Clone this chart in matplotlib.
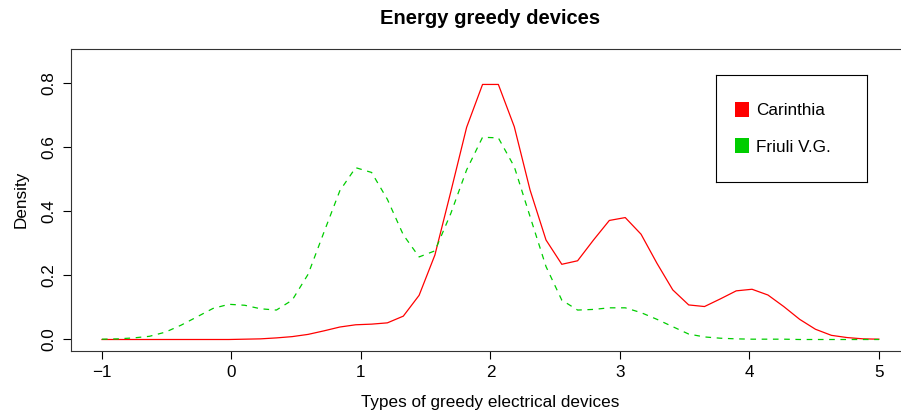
import matplotlib
matplotlib.use("Agg")
import matplotlib.pyplot as plt
from matplotlib.patches import Patch

plt.rcParams["font.family"] = ["Liberation Sans", "DejaVu Sans"]

# grille des abscisses (50 points de -1 a 5)
x_grid = [-1.000, -0.878, -0.755, -0.633, -0.510, -0.388, -0.265, -0.143, -0.020, 0.102,
          0.224, 0.347, 0.469, 0.592, 0.714, 0.837, 0.959, 1.082, 1.204, 1.327,
          1.449, 1.571, 1.694, 1.816, 1.939, 2.061, 2.184, 2.306, 2.429, 2.551,
          2.673, 2.796, 2.918, 3.041, 3.163, 3.286, 3.408, 3.531, 3.653, 3.776,
          3.898, 4.020, 4.143, 4.265, 4.388, 4.510, 4.633, 4.755, 4.878, 5.000]

# densites
carinthia = [0.000, 0.000, 0.000, 0.000, 0.000, 0.000, 0.000, 0.000, 0.000, 0.001,
             0.002, 0.005, 0.009, 0.016, 0.027, 0.039, 0.046, 0.048, 0.052, 0.073,
             0.138, 0.264, 0.462, 0.663, 0.797, 0.797, 0.665, 0.467, 0.311, 0.235,
             0.246, 0.311, 0.372, 0.381, 0.329, 0.238, 0.155, 0.108, 0.103, 0.127,
             0.152, 0.157, 0.139, 0.103, 0.063, 0.032, 0.013, 0.006, 0.002, 0.001]
friuli = [0.001, 0.002, 0.005, 0.010, 0.023, 0.045, 0.071, 0.097, 0.110, 0.107,
          0.096, 0.092, 0.123, 0.204, 0.335, 0.465, 0.537, 0.522, 0.438, 0.327,
          0.258, 0.277, 0.394, 0.530, 0.632, 0.630, 0.540, 0.384, 0.228, 0.123,
          0.092, 0.094, 0.099, 0.099, 0.084, 0.063, 0.040, 0.017, 0.008, 0.004,
          0.002, 0.001, 0.001, 0.001, 0.000, 0.000, 0.000, 0.000, 0.000, 0.000]

x_ticks = [-1, 0, 1, 2, 3, 4, 5]
x_tick_labels = ["\u22121", "0", "1", "2", "3", "4", "5"]
y_ticks = [0.0, 0.2, 0.4, 0.6, 0.8]
y_tick_labels = ["0.0", "0.2", "0.4", "0.6", "0.8"]
series_names = ["Carinthia", "Friuli V.G."]
series_colors = ["#FF0000", "#00CD00"]

FS = 12.3
W, H = 901, 415
fig = plt.figure(figsize=(W / 100, H / 100), dpi=100)
ax = fig.add_axes([70.9 / W, 1 - 350.7 / H, (910 - 70.9) / W, (350.7 - 48.7) / H])

ax.plot(x_grid, carinthia, color=series_colors[0], lw=0.9)
ax.plot(x_grid, friuli, color=series_colors[1], lw=0.9, dashes=(4.5, 4.5))

ax.set_xlim(-1.24, 5.24)
ax.set_ylim(-0.035, 0.9087)
ax.set_xticks(x_ticks)
ax.set_xticklabels(x_tick_labels)
ax.set_yticks(y_ticks)
ax.set_yticklabels(y_tick_labels, rotation=90, va="center")
ax.tick_params(direction="out", length=5.5, width=0.8, labelsize=FS, pad=5)
for s in ax.spines.values():
    s.set_linewidth(0.8)
    s.set_color("#333333")

ax.set_xlabel("Types of greedy electrical devices", fontsize=FS, labelpad=10.5)
ax.set_ylabel("Density", fontsize=FS, labelpad=9)
fig.text(490.5 / W, 1 - 18.5 / H, "Energy greedy devices", ha="center", va="center",
         fontsize=14.5, fontweight="bold")

# boite de legende
leg_ax = fig.add_axes([716 / W, 1 - 181.7 / H, 150.7 / W, 107 / H])
leg_ax.set_xticks([])
leg_ax.set_yticks([])
for s in leg_ax.spines.values():
    s.set_linewidth(0.8)
handles = [Patch(facecolor=c, edgecolor="none") for c in series_colors]
leg_ax.legend(handles, series_names, loc="center left", frameon=False, fontsize=FS,
              handlelength=0.82, handleheight=0.98, handletextpad=0.4,
              labelspacing=1.16, borderaxespad=0.83, borderpad=0.3)

fig.savefig("out.png", dpi=100)
